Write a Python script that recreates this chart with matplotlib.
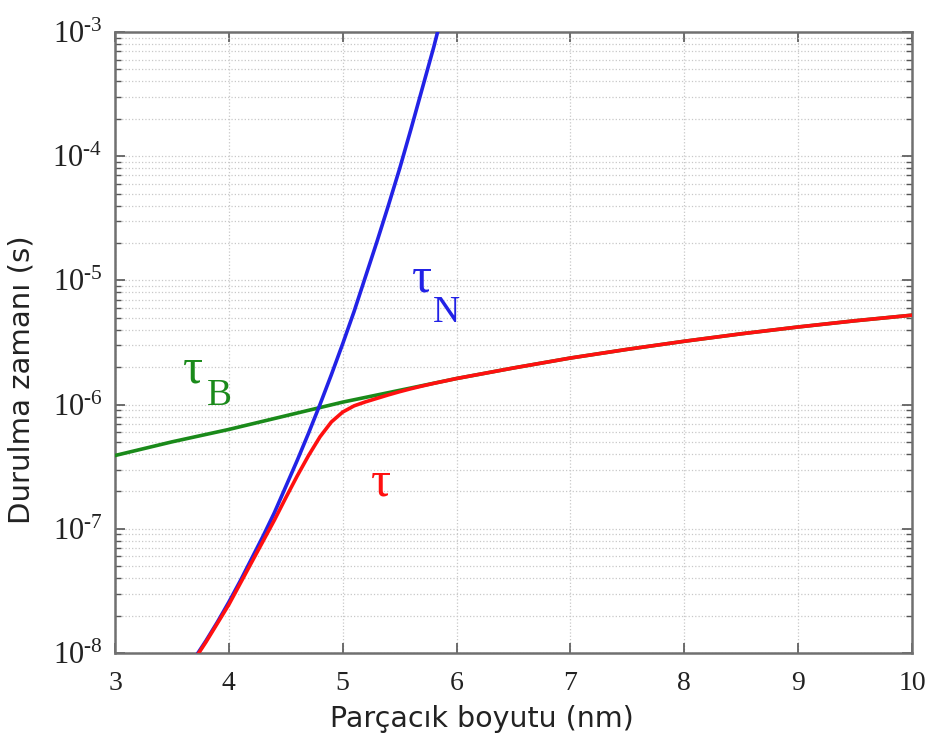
import numpy as np
import matplotlib
matplotlib.use("Agg")
import matplotlib.pyplot as plt
from matplotlib.ticker import FixedLocator, FuncFormatter, LogLocator, NullFormatter

plt.rcParams['mathtext.fontset'] = 'custom'
plt.rcParams['mathtext.rm'] = 'Liberation Serif'
plt.rcParams['mathtext.it'] = 'Liberation Serif:italic'

# ---- data (log10 of time in seconds) ----
d_brown = [3.0, 3.5, 4.0, 4.5, 5.0, 5.5, 6.0, 6.5, 7.0, 7.5, 8.0, 8.5, 9.0, 9.5, 10.0]
log_tau_brown = [-6.41, -6.30, -6.20, -6.09, -5.98, -5.885, -5.79, -5.705, -5.625,
                 -5.555, -5.49, -5.43, -5.375, -5.325, -5.28]

d_neel = [3.7, 3.8, 3.9, 4.0, 4.1, 4.2, 4.3, 4.4, 4.5, 4.6, 4.7, 4.8, 4.9, 5.0,
          5.1, 5.2, 5.3, 5.4, 5.5, 5.6, 5.7, 5.8, 5.85]
log_tau_neel = [-8.04, -7.90, -7.75, -7.59, -7.42, -7.24, -7.06, -6.87, -6.66,
                -6.45, -6.23, -6.00, -5.76, -5.51, -5.25, -4.97, -4.69, -4.40,
                -4.10, -3.78, -3.45, -3.12, -2.94]

d_eff = [3.7, 3.8, 3.9, 4.0, 4.1, 4.2, 4.3, 4.4, 4.5, 4.6, 4.7, 4.8, 4.9, 5.0,
         5.1, 5.2, 5.3, 5.4, 5.5, 5.6, 5.7, 5.8, 6.0, 6.5, 7.0, 7.5, 8.0, 8.5,
         9.0, 9.5, 10.0]
log_tau_eff = [-8.05, -7.91, -7.76, -7.61, -7.44, -7.27, -7.10, -6.93, -6.75,
               -6.575, -6.41, -6.26, -6.14, -6.06, -6.01, -5.978, -5.95, -5.922,
               -5.896, -5.872, -5.85, -5.829, -5.79, -5.705, -5.625, -5.555,
               -5.49, -5.43, -5.375, -5.325, -5.28]

x_ticks = [3, 4, 5, 6, 7, 8, 9, 10]
y_decades = [-8, -7, -6, -5, -4, -3]
x_label = "Parçacık boyutu (nm)"
y_label = "Durulma zamanı (s)"

# ---- figure ----
fig = plt.figure(figsize=(9.29, 7.42), dpi=100)
ax = fig.add_axes([115/929, 1-653/742, (912-115)/929, (653-32)/742])

c_green = '#1a8a1a'
c_blue = '#2222e6'
c_red = '#ff1010'

ax.semilogy(d_brown, 10**np.array(log_tau_brown), color=c_green, lw=2.6, zorder=3)
ax.semilogy(d_neel, 10**np.array(log_tau_neel), color=c_blue, lw=2.6, zorder=4)
ax.semilogy(d_eff, 10**np.array(log_tau_eff), color=c_red, lw=2.6, zorder=5)

ax.set_xlim(3, 10)
ax.set_ylim(1e-8, 1e-3)

serif = 'Liberation Serif'
ax.xaxis.set_major_locator(FixedLocator(x_ticks))
ax.xaxis.set_major_formatter(FuncFormatter(lambda v, p: '%d' % round(v)))
ax.yaxis.set_major_locator(FixedLocator([10.0**e for e in y_decades]))
ax.yaxis.set_major_formatter(FuncFormatter(
    lambda v, p: '$10^{\u2010%d}$' % abs(round(np.log10(v)))))
ax.yaxis.set_minor_locator(LogLocator(base=10, subs=np.arange(2, 10), numticks=50))
ax.yaxis.set_minor_formatter(NullFormatter())

ax.tick_params(which='both', direction='in', top=True, right=True, colors='#555555',
               labelcolor='#222222', labelfontfamily=serif)
ax.tick_params(axis='x', labelsize=20, pad=13)
ax.tick_params(axis='y', labelsize=22, pad=9)
ax.tick_params(which='major', length=7, width=1.2)
ax.tick_params(which='minor', length=4, width=1.0)

ax.grid(True, which='major', axis='x', color='#c8c8c8', linestyle=':', linewidth=0.9)
ax.grid(True, which='both', axis='y', color='#c8c8c8', linestyle=':', linewidth=0.9)
ax.set_axisbelow(True)

for s in ax.spines.values():
    s.set_color('#707070')
    s.set_linewidth(1.8)

ax.set_xlabel(x_label, fontsize=20.5, family='DejaVu Sans', color='#222222')
ax.xaxis.set_label_coords(0.46, -0.084)
ax.set_ylabel(y_label, fontsize=21, family='DejaVu Sans', color='#222222')
ax.yaxis.set_label_coords(-0.10, 0.44)

# curve labels
tfs = 36
sfs = 27
ax.text(3.685, 10**-5.826, 'τ', color=c_green, fontsize=tfs, family=serif, ha='center', va='baseline')
ax.text(3.913, 10**-6.003, 'B', color=c_green, fontsize=sfs, family=serif, ha='center', va='baseline')
ax.text(5.695, 10**-5.093, 'τ', color=c_blue, fontsize=tfs, family=serif, ha='center', va='baseline')
ax.text(5.915, 10**-5.335, 'N', color=c_blue, fontsize=sfs, family=serif, ha='center', va='baseline')
ax.text(5.335, 10**-6.728, 'τ', color=c_red, fontsize=tfs, family=serif, ha='center', va='baseline')

fig.savefig('out.png', dpi=100)
